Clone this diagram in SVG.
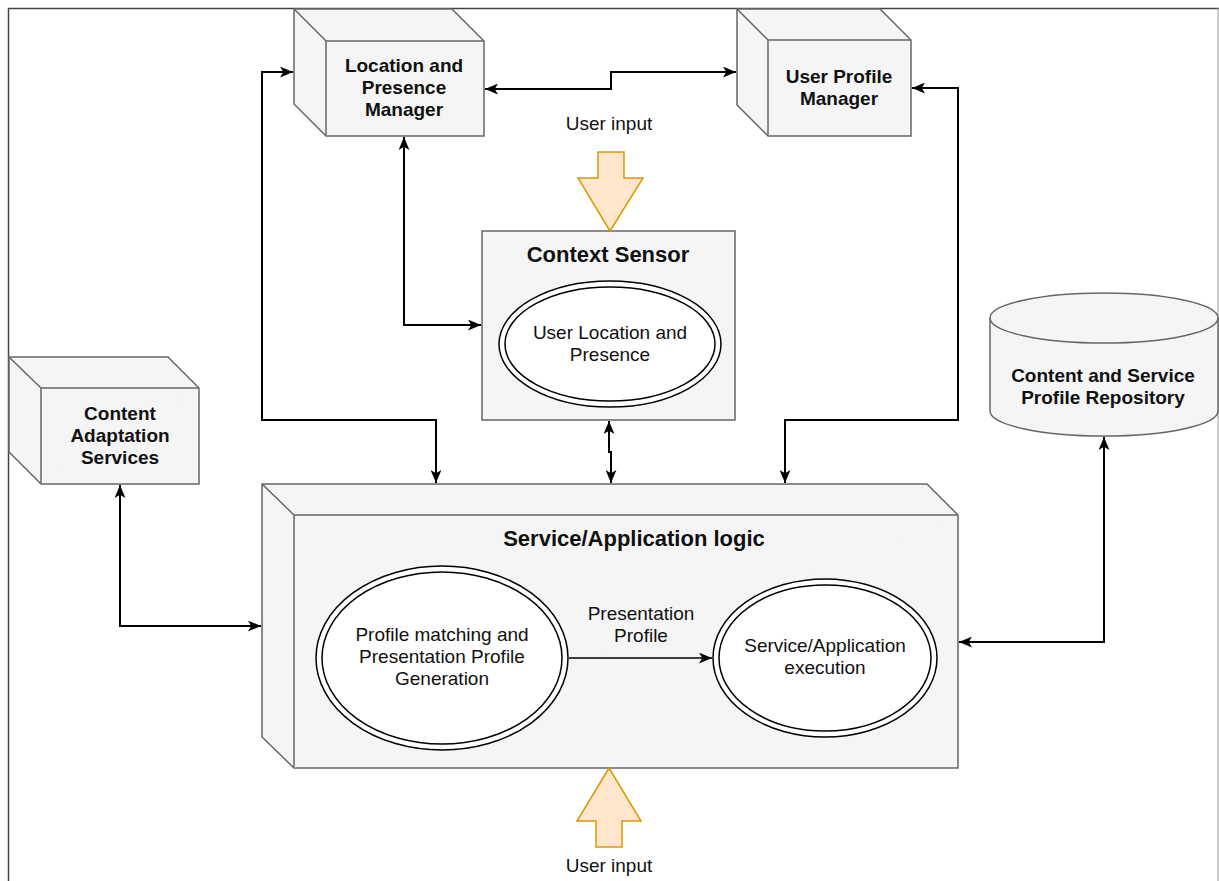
<svg xmlns="http://www.w3.org/2000/svg" width="1219" height="881" viewBox="0 0 1219 881">
  <defs>
    <marker id="arr" viewBox="0 0 12 10" refX="12" refY="5" markerWidth="13" markerHeight="11" markerUnits="userSpaceOnUse" orient="auto-start-reverse">
      <path d="M0,0 L12,5 L0,10 L3,5 Z" fill="#000"/>
    </marker>
    <style>
      .box { fill: #f5f5f5; stroke: #666666; stroke-width: 1.5; }
      .edge { fill: none; stroke: #000; stroke-width: 2; marker-start: url(#arr); marker-end: url(#arr); }
      .flow { fill: none; stroke: #000; stroke-width: 1.5; marker-end: url(#arr); }
      .ell { fill: #fff; stroke: #000; stroke-width: 1.5; }
      .input { fill: #ffe6cc; stroke: #d79b00; stroke-width: 1.5; }
      text { font-family: "Liberation Sans", Arial, sans-serif; font-size: 19px; fill: #111; text-anchor: middle; }
      .b { font-weight: bold; }
      .title { font-weight: bold; font-size: 22px; }
    </style>
  </defs>

  <rect width="1219" height="881" fill="#fff"/>

  <!-- outer frame -->
  <path d="M8.5,881 V8.5 H1219" fill="none" stroke="#444" stroke-width="1.5"/>
  <path d="M1218,8.5 V881" fill="none" stroke="#bbb" stroke-width="1.5"/>

  <!-- Location and Presence Manager -->
  <g id="location-presence-manager">
    <path class="box" d="M294,9 H452 L484,41 V136 H326 L294,104 Z"/>
    <path class="box" d="M326,136 V41 H484 M326,41 L294,9"/>
    <text class="b" x="404" y="72">Location and</text>
    <text class="b" x="404" y="94">Presence</text>
    <text class="b" x="404" y="116">Manager</text>
  </g>

  <!-- User Profile Manager -->
  <g id="user-profile-manager">
    <path class="box" d="M737,9 H880 L911,40 V136 H768 L737,105 Z"/>
    <path class="box" d="M768,136 V40 H911 M768,40 L737,9"/>
    <text class="b" x="839" y="83">User Profile</text>
    <text class="b" x="839" y="105">Manager</text>
  </g>

  <!-- Content Adaptation Services -->
  <g id="content-adaptation-services">
    <path class="box" d="M9,357 H168 L199,388 V484 H41 L9,452 Z"/>
    <path class="box" d="M41,484 V388 H199 M41,388 L9,357"/>
    <text class="b" x="120" y="420">Content</text>
    <text class="b" x="120" y="442">Adaptation</text>
    <text class="b" x="120" y="464">Services</text>
  </g>

  <!-- Context Sensor -->
  <g id="context-sensor">
    <rect class="box" x="482" y="231" width="253" height="189"/>
    <text class="title" x="608" y="262">Context Sensor</text>
    <ellipse class="ell" cx="610" cy="344" rx="111" ry="63"/>
    <ellipse class="ell" cx="610" cy="344" rx="105" ry="57"/>
    <text x="610" y="339">User Location and</text>
    <text x="610" y="361">Presence</text>
  </g>

  <!-- Service/Application logic -->
  <g id="service-application-logic">
    <path class="box" d="M262,484 H927 L958,515 V768 H294 L262,737 Z"/>
    <path class="box" d="M294,768 V515 H958 M294,515 L262,484"/>
    <text class="title" x="634" y="546">Service/Application logic</text>
  </g>

  <g id="profile-matching">
    <ellipse class="ell" cx="442" cy="658" rx="126" ry="92"/>
    <ellipse class="ell" cx="442" cy="658" rx="120" ry="86"/>
    <text x="442" y="641">Profile matching and</text>
    <text x="442" y="663">Presentation Profile</text>
    <text x="442" y="685">Generation</text>
  </g>

  <g id="service-execution">
    <ellipse class="ell" cx="825" cy="658" rx="112" ry="79"/>
    <ellipse class="ell" cx="825" cy="658" rx="106" ry="73"/>
    <text x="825" y="652">Service/Application</text>
    <text x="825" y="674">execution</text>
  </g>

  <g id="presentation-profile-label">
    <text x="641" y="620">Presentation</text>
    <text x="641" y="642">Profile</text>
  </g>

  <!-- User input (top) -->
  <g id="user-input-top">
    <text x="609" y="130">User input</text>
    <path class="input" d="M598,152 H624 V178 H643 L610,231 L578,178 H598 Z"/>
  </g>

  <!-- User input (bottom) -->
  <g id="user-input-bottom">
    <path class="input" d="M609,768 L641,821 H622 V847 H596 V821 H577 Z"/>
    <text x="609" y="872">User input</text>
  </g>

  <!-- Content and Service Profile Repository -->
  <g id="profile-repository">
    <path class="box" d="M990,318 A114,25 0 0 1 1218,318 V411 A114,25 0 0 1 990,411 Z"/>
    <path class="box" d="M990,318 A114,25 0 0 0 1218,318" fill="none"/>
    <text class="b" x="1103" y="382">Content and Service</text>
    <text class="b" x="1103" y="404">Profile Repository</text>
  </g>

  <!-- connectors -->
  <g id="connectors">
    <path class="edge" d="M485,89 H611 V72 H736"/>
    <path class="edge" d="M404,137 V325 H481"/>
    <path class="edge" d="M436,483 V420 H262 V72 H293"/>
    <path class="edge" d="M785,483 V420 H958 V88 H912"/>
    <path class="edge" d="M609,421 V452 H611 V483"/>
    <path class="edge" d="M120,485 V626 H261"/>
    <path class="edge" d="M1104,437 V642 H959"/>
    <path class="flow" d="M569,658 H712"/>
  </g>
</svg>
